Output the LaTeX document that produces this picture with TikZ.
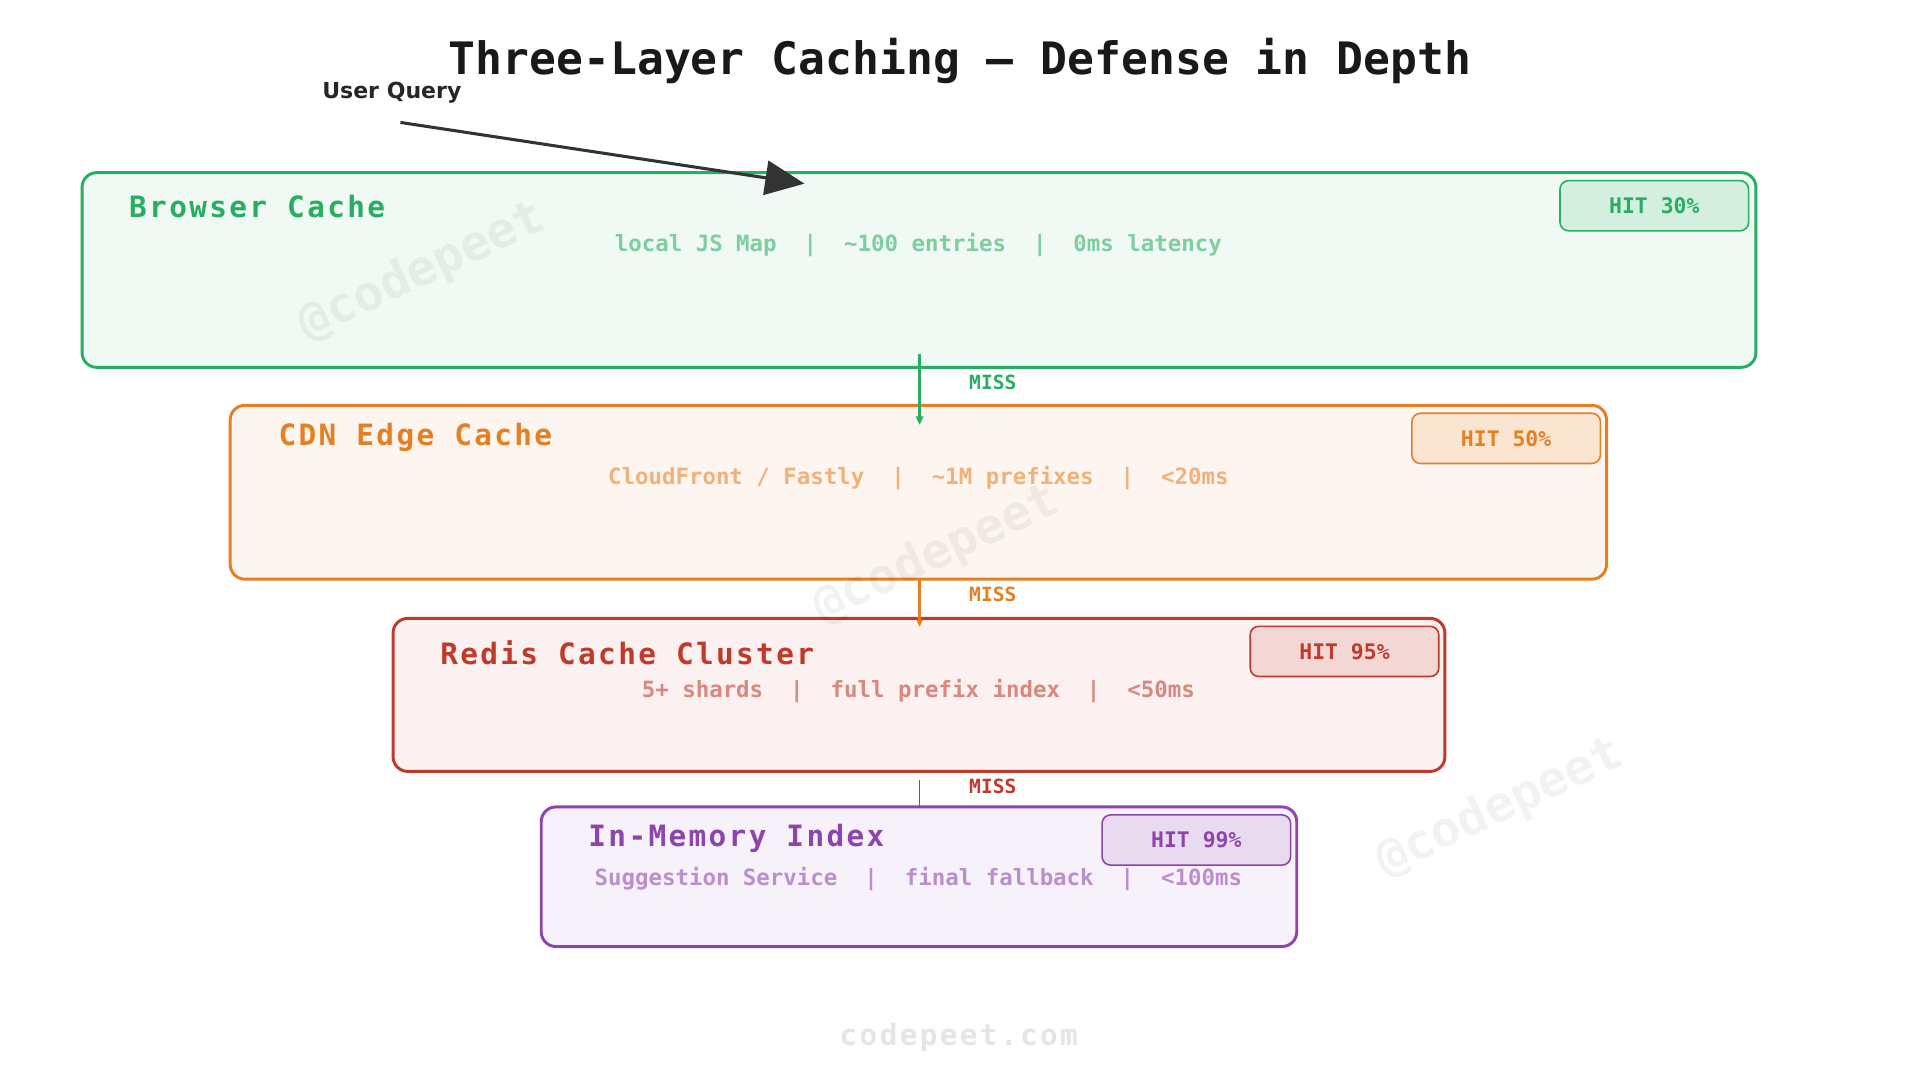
\documentclass[tikz,border=0pt]{standalone}
\usepackage{fontspec}
\setmonofont{DejaVu Sans Mono}
\setsansfont{DejaVu Sans}
\newfontfamily\widemono{DejaVu Sans Mono}[LetterSpace=8]
\usetikzlibrary{arrows.meta}
\definecolor{cg}{HTML}{27AE60}\definecolor{co}{HTML}{E67E22}
\definecolor{cr}{HTML}{C0392B}\definecolor{cp}{HTML}{8E44AD}
\tikzset{x=1pt,y=-1pt,
 layer/.style={draw=#1,fill=#1!7,line width=2.4pt,rounded corners=12pt},
 badge/.style={draw=#1,fill=#1!20,line width=1.3pt,rounded corners=7pt,minimum width=154pt,minimum height=41pt,text=#1,font=\ttfamily\bfseries\fontsize{17.5}{20}\selectfont},
 ltitle/.style={anchor=west,text=#1,font=\widemono\bfseries\fontsize{24}{28}\selectfont},
 lsub/.style={text=#1!60,font=\ttfamily\bfseries\fontsize{18.3}{20}\selectfont},
 miss/.style={anchor=west,text=#1,font=\ttfamily\bfseries\fontsize{16}{18}\selectfont},
 wm/.style={text=black,text opacity=0.05,rotate=25,font=\ttfamily\bfseries\fontsize{40}{44}\selectfont}}
\begin{document}
\begin{tikzpicture}
\useasboundingbox[fill=white] (0,0) rectangle (1568,882);
\node[font=\ttfamily\bfseries\fontsize{36.5}{40}\selectfont,text=black!90] (t) at (784,50) {Three-Layer Caching — Defense in Depth};
% boxes
\path[layer=cg] (67,141) rectangle (1434,300);
\node[ltitle=cg] (b1) at (102,169) {Browser Cache};
\node[lsub=cg] (s1) at (750,200) {local JS Map\ \ |\ \ \textasciitilde100 entries\ \ |\ \ 0ms latency};
\node[badge=cg] (h1) at (1351,168) {HIT 30\%};
\path[layer=co] (188,331) rectangle (1312,473);
\node[ltitle=co] (b2) at (224,357) {CDN Edge Cache};
\node[lsub=co] (s2) at (750,390) {CloudFront / Fastly\ \ |\ \ \textasciitilde1M prefixes\ \ |\ \ <20ms};
\node[badge=co] (h2) at (1230,358) {HIT 50\%};
\path[layer=cr] (321,505) rectangle (1180,630);
\node[ltitle=cr] (b3) at (356,533) {Redis Cache Cluster};
\node[lsub=cr] (s3) at (750,564) {5+ shards\ \ |\ \ full prefix index\ \ |\ \ <50ms};
\node[badge=cr] (h3) at (1098,532) {HIT 95\%};
\path[layer=cp] (442,659) rectangle (1059,773);
\node[ltitle=cp] (b4) at (477,685) {In-Memory Index};
\node[lsub=cp] (s4) at (750,718) {Suggestion Service\ \ |\ \ final fallback\ \ |\ \ <100ms};
\node[badge=cp] (h4) at (977,686) {HIT 99\%};
% arrows
\coordinate (a1) at (751,289); \coordinate (a2) at (751,347);
\draw[cg,line width=2pt,-{Triangle[length=7pt,width=6pt]}] (a1) -- (a2);
\node[miss=cg] (m1) at (788,312) {MISS};
\coordinate (c1) at (751,472); \coordinate (c2) at (751,512);
\draw[co,line width=2pt,-{Triangle[length=6pt,width=5pt]}] (c1) -- (c2);
\node[miss=co] (m2) at (788,485) {MISS};
\coordinate (d1) at (751,637); \coordinate (d2) at (751,660);
\draw[cr,line width=1.3pt] (d1) -- (d2);
\node[miss=cr] (m3) at (788,642) {MISS};
\node[font=\sffamily\bfseries\fontsize{18}{20}\selectfont,text=black!85] (uq) at (320,76) {User Query};
\coordinate (u1) at (327,100); \coordinate (u2) at (657,150);
\draw[black!80,line width=2.5pt,-{Triangle[length=32pt,width=28pt]}] (u1) -- (u2);
\node[wm] (w1) at (345,222) {@codepeet};
\node[wm] (w2) at (765,453) {@codepeet};
\node[wm] (w3) at (1225,660) {@codepeet};
\node[font=\widemono\bfseries\fontsize{24}{26}\selectfont,text=black!10] (f) at (783,847) {codepeet.com};
\end{tikzpicture}
\end{document}
